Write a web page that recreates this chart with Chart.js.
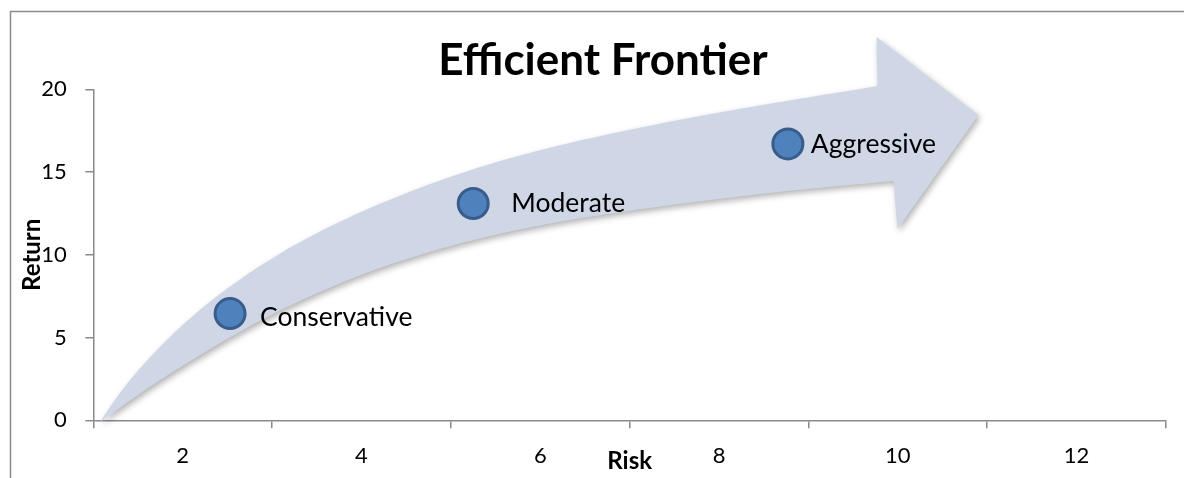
<!DOCTYPE html>
<html>
<head>
<meta charset="utf-8">
<script src="https://cdn.jsdelivr.net/npm/chart.js@4.4.1/dist/chart.umd.min.js"></script>
<style>
  html, body { margin: 0; padding: 0; background: #ffffff; }
  canvas { display: block; }
</style>
</head>
<body>
<canvas id="chart" width="1184" height="478"></canvas>
<script>
// ---- data ----
const portfolios = ['Conservative', 'Moderate', 'Aggressive'];
const riskValues = [2.53, 5.25, 8.77];
const returnValues = [6.45, 13.1, 16.7];
const riskTickLabels = [2, 4, 6, 8, 10, 12];
const returnTickLabels = [0, 5, 10, 15, 20];

// decorative frontier arrow outline (data units: risk, return); corners listed twice
const arrowRisk = [1.075, 1.298, 1.578, 1.969, 2.506, 3.087, 3.758, 4.429, 5.211, 5.994, 6.665, 7.783, 8.901,
  9.772, 9.772, 9.761, 9.761, 10.902, 10.902, 9.996, 9.996, 9.951, 9.951,
  8.901, 7.783, 6.665, 5.994, 5.211, 4.429, 3.758, 3.087, 2.506, 1.802, 1.410, 1.075];
const arrowReturn = [-0.10, 1.65, 3.47, 5.61, 7.99, 10.07, 11.99, 13.57, 15.09, 16.31, 17.17, 18.38, 19.43,
  20.19, 20.19, 23.16, 23.16, 18.45, 18.45, 11.56, 11.56, 14.46, 14.46,
  13.93, 13.23, 12.39, 11.77, 10.84, 9.61, 8.27, 6.64, 4.94, 2.62, 1.20, -0.10];

const FONT = 'Lato';

const framePlugin = {
  id: 'frame',
  beforeDraw(chart) {
    const ctx = chart.ctx;
    ctx.save();
    ctx.fillStyle = '#ffffff';
    ctx.fillRect(0, 0, chart.width, chart.height);
    ctx.strokeStyle = '#8c8c8c';
    ctx.lineWidth = 1.5;
    ctx.beginPath();
    ctx.moveTo(10.5, chart.height);
    ctx.lineTo(10.5, 11.5);
    ctx.lineTo(chart.width, 11.5);
    ctx.stroke();
    ctx.restore();
  }
};

const arrowPlugin = {
  id: 'arrowShape',
  beforeDatasetDraw(chart, args) {
    const ds = chart.data.datasets[args.index];
    if (ds.label !== 'frontierArrow') return;
    const line = args.meta.dataset;
    line.updateControlPoints(chart.chartArea, 'x');
    const ctx = chart.ctx;
    ctx.save();
    ctx.beginPath();
    line.path(ctx);
    ctx.closePath();
    ctx.shadowColor = 'rgba(0,0,0,0.30)';
    ctx.shadowBlur = 6;
    ctx.shadowOffsetX = 2;
    ctx.shadowOffsetY = 3;
    ctx.fillStyle = 'rgb(207,215,231)';
    ctx.fill();
    ctx.restore();
  }
};

const labelPlugin = {
  id: 'pointLabels',
  afterDatasetsDraw(chart, args, opts) {
    const meta = chart.getDatasetMeta(1);
    const ctx = chart.ctx;
    ctx.save();
    ctx.font = opts.size + 'px ' + FONT;
    ctx.fillStyle = '#000000';
    ctx.textBaseline = 'middle';
    ctx.textAlign = 'left';
    meta.data.forEach((pt, i) => {
      ctx.fillText(portfolios[i], pt.x + opts.dx[i], pt.y + opts.dy[i]);
    });
    ctx.restore();
  }
};

function draw() {
  new Chart(document.getElementById('chart'), {
    type: 'scatter',
    data: {
      datasets: [
        {
          label: 'frontierArrow',
          type: 'line',
          order: 1,
          data: arrowRisk.map((x, i) => ({ x: x, y: arrowReturn[i] })),
          xAxisID: 'x',
          yAxisID: 'y',
          tension: 0.35,
          capBezierPoints: false,
          borderWidth: 0,
          borderColor: 'rgba(0,0,0,0)',
          backgroundColor: 'rgba(0,0,0,0)',
          fill: false,
          pointRadius: 0,
          pointHoverRadius: 0,
          clip: false
        },
        {
          label: 'Portfolios',
          type: 'scatter',
          order: 0,
          data: riskValues.map((x, i) => ({ x: x, y: returnValues[i] })),
          xAxisID: 'x',
          yAxisID: 'y',
          pointRadius: 15,
          pointHoverRadius: 15,
          pointBorderWidth: 3,
          backgroundColor: '#4f81bd',
          borderColor: '#385d8a',
          clip: false
        }
      ]
    },
    options: {
      responsive: false,
      animation: false,
      devicePixelRatio: 1,
      events: [],
      elements: { line: { capBezierPoints: false } },
      layout: { padding: { left: 22, right: 0, top: 0, bottom: 0 } },
      plugins: {
        legend: { display: false },
        tooltip: { enabled: false },
        title: {
          display: true,
          text: 'Efficient Frontier',
          color: '#000000',
          font: { family: FONT, size: 44, weight: 'bold', lineHeight: 1.2 },
          padding: { top: 34.6, bottom: 1.9 }
        },
        pointLabels: { size: 26.5, dx: [30, 38, 23], dy: [4, 0, 1] }
      },
      scales: {
        x: {
          type: 'linear',
          position: 'bottom',
          min: 1,
          max: 13,
          afterFit: (s) => { s.height = 57.7; },
          border: { color: '#8a8a8a', width: 1.5 },
          grid: {
            drawOnChartArea: false,
            drawTicks: true,
            tickLength: 8,
            lineWidth: 1.5,
            color: (c) => (c.tick && Math.round(c.tick.value) % 2 === 1) ? '#8a8a8a' : 'rgba(0,0,0,0)'
          },
          ticks: {
            stepSize: 1,
            autoSkip: false,
            maxRotation: 0,
            minRotation: 0,
            padding: 14.6,
            color: '#000000',
            font: { family: FONT, size: 22 },
            callback: (v) => riskTickLabels.includes(v) ? String(v) : ''
          },
          title: {
            display: true,
            text: 'Risk',
            color: '#000000',
            font: { family: FONT, size: 24, weight: 'bold', lineHeight: 1.2 },
            padding: { top: 0, bottom: 1.9 }
          }
        },
        y: {
          type: 'linear',
          position: 'left',
          min: 0,
          max: 20,
          afterFit: (s) => { s.width = 71.3; },
          border: { color: '#8a8a8a', width: 1.5 },
          grid: {
            drawOnChartArea: false,
            drawTicks: true,
            tickLength: 8,
            lineWidth: 1.5,
            color: '#8a8a8a'
          },
          ticks: {
            stepSize: 5,
            padding: 18.6,
            color: '#000000',
            font: { family: FONT, size: 22 },
            callback: (v) => returnTickLabels.includes(v) ? String(v) : ''
          },
          title: {
            display: true,
            text: 'Return',
            color: '#000000',
            font: { family: FONT, size: 24, weight: 'bold', lineHeight: 1.2 },
            padding: { top: -4.4, bottom: 0 }
          }
        },
        y2: {
          type: 'linear',
          position: 'right',
          display: true,
          afterFit: (s) => { s.width = 17.3; },
          grid: { display: false },
          border: { display: false },
          ticks: { display: false }
        }
      }
    },
    plugins: [framePlugin, arrowPlugin, labelPlugin]
  });
}

const fontLoads = [
  '44px Lato', 'bold 44px Lato', '22px Lato', 'bold 24px Lato', '26.5px Lato'
].map(f => document.fonts.load(f).catch(() => null));
Promise.all(fontLoads).then(draw, draw);
</script>
</body>
</html>
